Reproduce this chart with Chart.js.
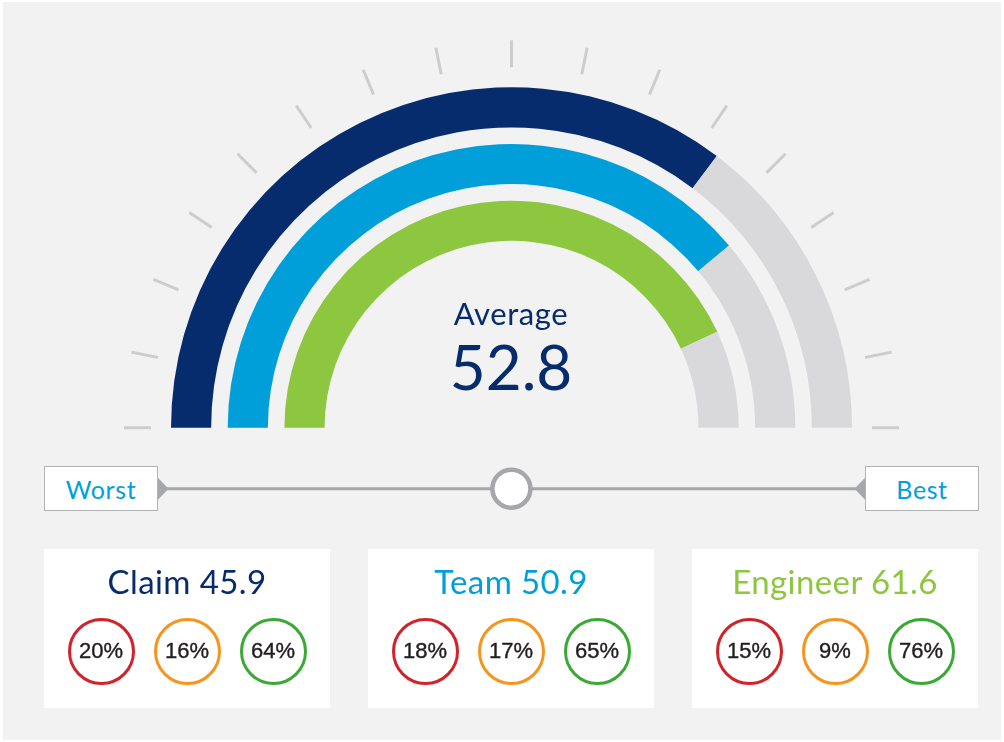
<!DOCTYPE html>
<html>
<head>
<meta charset="utf-8">
<script src="https://cdn.jsdelivr.net/npm/chart.js@4.4.1/dist/chart.umd.min.js"></script>
<style>
  html, body { margin: 0; padding: 0; background: #ffffff; }
  body { width: 1004px; height: 742px; position: relative; overflow: hidden; font-family: Lato, "Open Sans", sans-serif; }
  #panel { position: absolute; left: 3px; top: 2px; width: 998px; height: 738px; background: #f2f2f2; }
  #chartBox { position: absolute; left: 0; top: 0; width: 1004px; height: 742px; }
  .center-text { position: absolute; text-align: center; white-space: nowrap; line-height: 1; }
  .box { position: absolute; background: #fff; border: 1.5px solid #b3b3b5; box-sizing: border-box;
         color: #00a0da; font-size: 25px; letter-spacing: 0.6px; display: flex; align-items: center; justify-content: center; }
  .card { position: absolute; background: #fff; }
  .card .title { position: absolute; left: 0; right: 0; text-align: center; line-height: 1; font-size: 33px; letter-spacing: 0.4px; white-space: nowrap; }
  .ring { position: absolute; width: 67px; height: 67px; box-sizing: border-box; border-radius: 50%;
          border: 3.5px solid; display: flex; align-items: center; justify-content: center;
          font-family: "Liberation Sans", Arial, sans-serif; font-size: 22px; color: #231f20; background: #fff;
          -webkit-text-stroke: 0.4px #231f20; }
</style>
</head>
<body>
<div id="panel"></div>
<div id="chartBox"><canvas id="c"></canvas></div>
<div id="overlay"></div>
<script>
// ---- data ----
const categories = ['Claim', 'Team', 'Engineer'];
const scores = [45.9, 50.9, 61.6];
const gaugeFill = [70.6, 77.8, 86.1];      // share of the half-circle filled, read from the arcs
const averageLabel = 'Average';
const averageScore = 52.8;
const negativeShare = [20, 18, 15];
const neutralShare = [16, 17, 9];
const positiveShare = [64, 65, 76];
const scaleLabels = ['Worst', 'Best'];
const gaugeTickCount = 17;

// ---- styles ----
const seriesColors = ['#062c6e', '#009fd9', '#8dc63f'];
const trackColor = '#d9d9db';
const shareColors = ['#d2232a', '#f7941d', '#3aaa35'];

const RING_W = 40, GAP_W = 16.5;
const datasets = [];
categories.forEach((cat, i) => {
  if (i > 0) {
    datasets.push({ label: 'gap' + i, data: [100], backgroundColor: ['rgba(0,0,0,0)'], borderWidth: 0, weight: GAP_W, hoverOffset: 0 });
  }
  datasets.push({
    label: cat,
    data: [gaugeFill[i], 100 - gaugeFill[i]],
    backgroundColor: [seriesColors[i], trackColor],
    borderWidth: 0,
    weight: RING_W,
    hoverOffset: 0
  });
});

const tickPlugin = {
  id: 'gaugeTicks',
  beforeDatasetsDraw(chart) {
    const meta = chart.getDatasetMeta(0);
    const arc = meta.data[0];
    if (!arc) return;
    const cx = arc.x, cy = arc.y, R = arc.outerRadius;
    const ctx = chart.ctx;
    ctx.save();
    ctx.strokeStyle = '#cdcdcf';
    ctx.lineWidth = 3;
    ctx.lineCap = 'butt';
    for (let k = 0; k < gaugeTickCount; k++) {
      const a = Math.PI - k * Math.PI / (gaugeTickCount - 1);
      const r1 = R + 20, r2 = R + 47;
      ctx.beginPath();
      ctx.moveTo(cx + r1 * Math.cos(a), cy - r1 * Math.sin(a));
      ctx.lineTo(cx + r2 * Math.cos(a), cy - r2 * Math.sin(a));
      ctx.stroke();
    }
    ctx.restore();
  }
};

new Chart(document.getElementById('c'), {
  type: 'doughnut',
  data: { labels: ['value', 'rest'], datasets },
  options: {
    responsive: true,
    maintainAspectRatio: false,
    animation: false,
    rotation: -90,
    circumference: 180,
    cutout: '54.9%',
    layout: { padding: { left: 171, right: 152, top: 87, bottom: 314 } },
    plugins: { legend: { display: false }, tooltip: { enabled: false } },
    events: []
  },
  plugins: [tickPlugin]
});

// ---- HTML overlay (text, slider, cards) ----
const ov = document.getElementById('overlay');
function el(tag, cls, style, text) {
  const e = document.createElement(tag);
  if (cls) e.className = cls;
  Object.assign(e.style, style);
  if (text !== undefined) e.textContent = text;
  return e;
}
// center label
ov.appendChild(el('div', 'center-text', { left: '411px', width: '200px', top: '298px', fontSize: '31px', letterSpacing: '0.6px', color: '#062c6e' }, averageLabel));
ov.appendChild(el('div', 'center-text', { left: '411px', width: '200px', top: '335px', fontSize: '62px', color: '#062c6e' }, averageScore.toFixed(1)));

// slider
const svgNS = 'http://www.w3.org/2000/svg';
const svg = document.createElementNS(svgNS, 'svg');
svg.setAttribute('width', '1004'); svg.setAttribute('height', '742');
svg.style.position = 'absolute'; svg.style.left = '0'; svg.style.top = '0';
svg.innerHTML =
  '<line x1="160" y1="488.7" x2="862" y2="488.7" stroke="#a6a7aa" stroke-width="3"/>' +
  '<polygon points="157,476.7 168.5,488.7 157,500.7" fill="#a6a7aa"/>' +
  '<polygon points="866,476.7 854.5,488.7 866,500.7" fill="#a6a7aa"/>' +
  '<circle cx="511.4" cy="488.7" r="19" fill="#ffffff" stroke="#a6a7aa" stroke-width="4.5"/>';
ov.appendChild(svg);
ov.appendChild(el('div', 'box', { left: '44px', top: '466px', width: '114px', height: '45px' }, scaleLabels[0]));
ov.appendChild(el('div', 'box', { left: '865px', top: '466px', width: '114px', height: '45px' }, scaleLabels[1]));

// cards
const cardLefts = [44, 368, 692];
categories.forEach((cat, i) => {
  const card = el('div', 'card', { left: cardLefts[i] + 'px', top: '549px', width: '286px', height: '159px' });
  card.appendChild(el('div', 'title', { top: '16px', color: seriesColors[i] }, cat + ' ' + scores[i].toFixed(1)));
  const shares = [negativeShare[i], neutralShare[i], positiveShare[i]];
  shares.forEach((v, j) => {
    const cx = 143 + (j - 1) * 86;
    card.appendChild(el('div', 'ring', { left: (cx - 33.5) + 'px', top: (102 - 33.5) + 'px', borderColor: shareColors[j] }, v + '%'));
  });
  ov.appendChild(card);
});
</script>
</body>
</html>
